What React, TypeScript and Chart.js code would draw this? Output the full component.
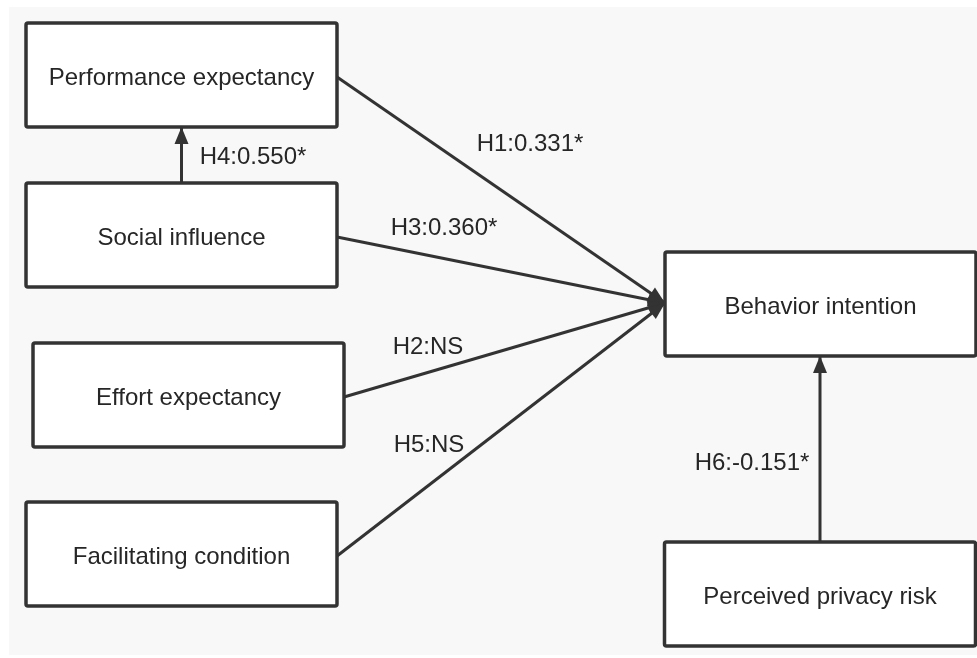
import React, { useEffect, useRef } from "react";
import { Chart, registerables } from "chart.js";

Chart.register(...registerables);

// Nodes of the path model (centres in diagram units)
const nodeLabels = [
  "Performance expectancy",
  "Social influence",
  "Effort expectancy",
  "Facilitating condition",
  "Behavior intention",
  "Perceived privacy risk",
];
const nodeX = [181.5, 181.5, 188.5, 181.5, 820.5, 820];
const nodeY = [75, 235, 395, 554, 304, 594];

// Paths (hypotheses)
const edgeFrom = [0, 1, 2, 3, 1, 5];
const edgeTo = [4, 4, 4, 4, 0, 4];
const edgeLabels = ["H1:0.331*", "H3:0.360*", "H2:NS", "H5:NS", "H4:0.550*", "H6:-0.151*"];
const labelX = [530, 444, 428, 429, 253, 752];
const labelY = [144, 228, 347, 445, 157, 463];

const BOX_W = 311;
const BOX_H = 104;
const INK = "#333333";
const TEXT = "#262626";
const FONT = '24px "Liberation Sans", Arial, sans-serif';

function edgeEnds(i: number) {
  const s = edgeFrom[i];
  const t = edgeTo[i];
  if (Math.abs(nodeX[s] - nodeX[t]) < 20) {
    const up = nodeY[t] < nodeY[s];
    return {
      x1: nodeX[s],
      y1: up ? nodeY[s] - BOX_H / 2 : nodeY[s] + BOX_H / 2,
      x2: nodeX[s],
      y2: up ? nodeY[t] + BOX_H / 2 : nodeY[t] - BOX_H / 2,
    };
  }
  return {
    x1: nodeX[s] + BOX_W / 2,
    y1: nodeY[s] + 2,
    x2: nodeX[t] - BOX_W / 2,
    y2: nodeY[t] - 1,
  };
}

const diagramPlugin = {
  id: "diagram",
  beforeDatasetsDraw(chart: any) {
    const { ctx, chartArea } = chart;
    ctx.save();
    ctx.fillStyle = "#f8f8f8";
    ctx.fillRect(chartArea.left, chartArea.top, chartArea.right - chartArea.left, chartArea.bottom - chartArea.top);
    ctx.restore();
  },
  afterDatasetsDraw(chart: any) {
    const { ctx, scales } = chart;
    const xs = scales.x;
    const ys = scales.y;
    ctx.save();
    ctx.fillStyle = INK;
    edgeFrom.forEach((_, i) => {
      const e = edgeEnds(i);
      const px1 = xs.getPixelForValue(e.x1);
      const py1 = ys.getPixelForValue(e.y1);
      const px2 = xs.getPixelForValue(e.x2);
      const py2 = ys.getPixelForValue(e.y2);
      const a = Math.atan2(py2 - py1, px2 - px1);
      const L = 17;
      const W = 7;
      ctx.beginPath();
      ctx.moveTo(px2, py2);
      ctx.lineTo(px2 - L * Math.cos(a) + W * Math.sin(a), py2 - L * Math.sin(a) - W * Math.cos(a));
      ctx.lineTo(px2 - L * Math.cos(a) - W * Math.sin(a), py2 - L * Math.sin(a) + W * Math.cos(a));
      ctx.closePath();
      ctx.fill();
    });
    nodeLabels.forEach((label, i) => {
      const l = xs.getPixelForValue(nodeX[i] - BOX_W / 2);
      const r = xs.getPixelForValue(nodeX[i] + BOX_W / 2);
      const t = ys.getPixelForValue(nodeY[i] - BOX_H / 2);
      const b = ys.getPixelForValue(nodeY[i] + BOX_H / 2);
      ctx.beginPath();
      if (ctx.roundRect) ctx.roundRect(l, t, r - l, b - t, 2);
      else ctx.rect(l, t, r - l, b - t);
      ctx.fillStyle = "#ffffff";
      ctx.fill();
      ctx.lineWidth = 3.5;
      ctx.strokeStyle = INK;
      ctx.stroke();
      ctx.fillStyle = TEXT;
      ctx.font = FONT;
      ctx.textAlign = "center";
      ctx.textBaseline = "middle";
      ctx.fillText(label, (l + r) / 2, (t + b) / 2 + 3);
    });
    edgeLabels.forEach((label, i) => {
      ctx.fillStyle = TEXT;
      ctx.font = FONT;
      ctx.textAlign = "center";
      ctx.textBaseline = "middle";
      ctx.fillText(label, xs.getPixelForValue(labelX[i]), ys.getPixelForValue(labelY[i]));
    });
    ctx.restore();
  },
};

export default function App() {
  const ref = useRef<HTMLCanvasElement | null>(null);
  useEffect(() => {
    document.body.style.margin = "0";
    document.body.style.background = "#ffffff";
    const canvas = ref.current;
    if (!canvas) return;
    const datasets: any[] = [
      {
        label: "nodes",
        data: nodeX.map((x, i) => ({ x, y: nodeY[i] })),
        pointRadius: 0,
        showLine: false,
      },
      ...edgeFrom.map((_, i) => {
        const e = edgeEnds(i);
        return {
          label: edgeLabels[i],
          data: [
            { x: e.x1, y: e.y1 },
            { x: e.x2, y: e.y2 },
          ],
          showLine: true,
          borderColor: INK,
          borderWidth: 3,
          pointRadius: 0,
          fill: false,
        };
      }),
    ];
    const chart = new Chart(canvas, {
      type: "scatter",
      data: { datasets },
      options: {
        animation: false,
        responsive: false,
        maintainAspectRatio: false,
        layout: { padding: { left: 9, top: 7, right: 0, bottom: 3 } },
        plugins: { legend: { display: false }, tooltip: { enabled: false } },
        scales: {
          x: { type: "linear", min: 9, max: 977, display: false },
          y: { type: "linear", min: 7, max: 655, reverse: true, display: false },
        },
      },
      plugins: [diagramPlugin],
    });
    return () => chart.destroy();
  }, []);
  return (
    <div style={{ width: 977, height: 658 }}>
      <canvas ref={ref} width={977} height={658} style={{ display: "block", width: 977, height: 658 }} />
    </div>
  );
}
